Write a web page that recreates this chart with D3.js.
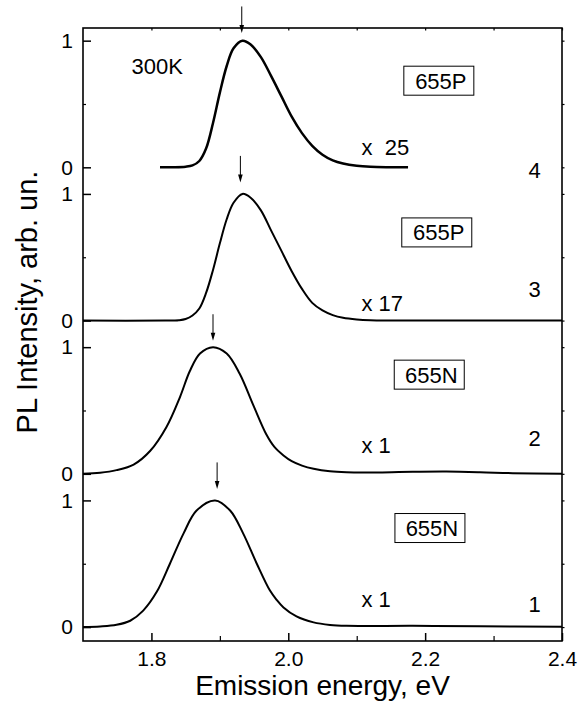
<!DOCTYPE html>
<html>
<head>
<meta charset="utf-8">
<script src="https://cdn.jsdelivr.net/npm/d3@7"></script>
<style>
  body { margin: 0; background: #fff; }
  svg { display: block; }
  text { font-family: "Liberation Sans", Arial, sans-serif; fill: #000; }
</style>
</head>
<body>
<div id="chart"></div>
<script>
// Spectra, top panel first (curve 4) down to curve 1
const curveIds = ["4", "3", "2", "1"];
const samples = ["655P", "655P", "655N", "655N"];
const factors = ["x\u00a0\u00a025", "x 17", "x 1", "x 1"];
const peakEnergy = [1.932, 1.930, 1.890, 1.896];

const energy4 = [1.8125, 1.83, 1.85, 1.86, 1.87, 1.88, 1.89, 1.90, 1.91, 1.92, 1.933, 1.945, 1.96, 1.975, 1.99, 2.005, 2.02, 2.035, 2.05, 2.065, 2.08, 2.10, 2.12, 2.15, 2.175];
const intensity4 = [0, 0.001, 0.005, 0.015, 0.05, 0.15, 0.35, 0.59, 0.80, 0.94, 1.0, 0.97, 0.87, 0.72, 0.56, 0.40, 0.27, 0.17, 0.10, 0.055, 0.03, 0.012, 0.004, 0.001, 0];

const energy3 = [1.7, 1.82, 1.84, 1.85, 1.86, 1.87, 1.88, 1.89, 1.90, 1.91, 1.92, 1.933, 1.945, 1.96, 1.975, 1.99, 2.005, 2.02, 2.035, 2.05, 2.065, 2.08, 2.10, 2.12, 2.15, 2.4];
const intensity3 = [0, 0, 0.003, 0.012, 0.04, 0.095, 0.22, 0.40, 0.61, 0.80, 0.93, 1.0, 0.97, 0.87, 0.71, 0.55, 0.39, 0.25, 0.14, 0.08, 0.043, 0.022, 0.009, 0.003, 0.001, 0];

const energy2 = [1.7, 1.725, 1.749, 1.774, 1.798, 1.822, 1.842, 1.856, 1.871, 1.890, 1.910, 1.929, 1.949, 1.968, 1.98, 1.993, 2.005, 2.02, 2.037, 2.061, 2.085, 2.110, 2.182, 2.231, 2.280, 2.328, 2.4];
const intensity2 = [0, 0.008, 0.029, 0.073, 0.18, 0.37, 0.61, 0.81, 0.95, 1.0, 0.95, 0.79, 0.54, 0.31, 0.21, 0.145, 0.10, 0.065, 0.04, 0.02, 0.012, 0.01, 0.016, 0.018, 0.013, 0.005, 0];

const energy1 = [1.7, 1.725, 1.749, 1.769, 1.788, 1.808, 1.827, 1.847, 1.866, 1.893, 1.915, 1.934, 1.954, 1.973, 1.983, 1.993, 2.012, 2.037, 2.061, 2.085, 2.182, 2.280, 2.4];
const intensity1 = [0, 0.005, 0.018, 0.05, 0.13, 0.28, 0.50, 0.74, 0.92, 1.0, 0.92, 0.74, 0.50, 0.29, 0.215, 0.155, 0.084, 0.037, 0.017, 0.01, 0.01, 0.007, 0.002];

const energies = [energy4, energy3, energy2, energy1];
const intensities = [intensity4, intensity3, intensity2, intensity1];

const xTicks = [1.8, 2.0, 2.2, 2.4];
const xMinorTicks = [1.9, 2.1, 2.3];
const yTicks = [0, 1];

// annotation placement per panel (in data units)
const notes = [
  { box: [2.22, 0.684], factor: [2.107, 0.097], id: [2.36, -0.087], arrow: [1.06, 1.27], width: 2.5 },
  { box: [2.217, 0.696], factor: [2.107, 0.078], id: [2.36, 0.184], arrow: [1.09, 1.30], width: 2 },
  { box: [2.206, 0.783], factor: [2.107, 0.167], id: [2.36, 0.22], arrow: [1.05, 1.26], width: 2 },
  { box: [2.207, 0.782], factor: [2.107, 0.161], id: [2.36, 0.12], arrow: [1.09, 1.30], width: 2 },
];

const W = 585, H = 709;
const margin = { top: 28, right: 23, bottom: 68, left: 83 };
const panelH = (H - margin.top - margin.bottom) / 4;

const svg = d3.select("#chart").append("svg").attr("width", W).attr("height", H);

const x = d3.scaleLinear().domain([1.7, 2.4]).range([margin.left, W - margin.right]);

const noDomain = (g) => g.select(".domain").remove();

curveIds.forEach((id, i) => {
  const top = margin.top + i * panelH;
  const y = d3.scaleLinear().domain([-0.11, 1.1]).range([top + panelH, top]);
  const note = notes[i];
  const g = svg.append("g");

  // left ticks (inward) with labels
  g.append("g")
    .attr("transform", `translate(${margin.left},0)`)
    .call(d3.axisLeft(y).tickValues(yTicks).tickSize(-8).tickPadding(10).tickFormat(d3.format("d")))
    .call(noDomain)
    .call((a) => a.selectAll("line").attr("stroke", "#000").attr("stroke-width", 1.5))
    .call((a) => a.selectAll("text").style("font-size", "21px").style("font-family", "'Liberation Sans', Arial, sans-serif"));

  g.append("g")
    .attr("transform", `translate(${margin.left},0)`)
    .call(d3.axisLeft(y).tickValues([0.5]).tickSize(-3).tickFormat(""))
    .call(noDomain)
    .call((a) => a.selectAll("line").attr("stroke", "#000").attr("stroke-width", 1.2));

  // right ticks (small, outward)
  g.append("g")
    .attr("transform", `translate(${W - margin.right},0)`)
    .call(d3.axisRight(y).tickValues([0, 0.5, 1]).tickSize(2.5).tickFormat(""))
    .call(noDomain)
    .call((a) => a.selectAll("line").attr("stroke", "#000").attr("stroke-width", 1.2));

  // spectrum
  const pts = energies[i].map((e, k) => [e, intensities[i][k]]);
  g.append("path")
    .datum(pts)
    .attr("fill", "none")
    .attr("stroke", "#000")
    .attr("stroke-width", note.width)
    .attr("d", d3.line().x((d) => x(d[0])).y((d) => y(d[1])).curve(d3.curveCatmullRom.alpha(0.5)));

  // peak arrow
  const ax = x(peakEnergy[i]);
  const tipY = y(note.arrow[0]);
  g.append("line")
    .attr("x1", ax).attr("x2", ax)
    .attr("y1", y(note.arrow[1])).attr("y2", tipY - 6)
    .attr("stroke", "#000").attr("stroke-width", 1);
  g.append("path")
    .attr("d", `M${ax - 2.3},${tipY - 8}L${ax + 2.3},${tipY - 8}L${ax},${tipY}Z`)
    .attr("fill", "#000");

  // sample box
  const bx = x(note.box[0]);
  const by = y(note.box[1]);
  g.append("rect")
    .attr("x", bx - 35).attr("y", by - 14.5)
    .attr("width", 70).attr("height", 29)
    .attr("fill", "none").attr("stroke", "#000").attr("stroke-width", 1);
  g.append("text")
    .attr("x", bx + 2).attr("y", by + 8)
    .attr("text-anchor", "middle")
    .style("font-size", "22px")
    .text(samples[i]);

  // multiplication factor
  g.append("text")
    .attr("x", x(note.factor[0])).attr("y", y(note.factor[1]))
    .style("font-size", "22px")
    .text(factors[i]);

  // curve number
  g.append("text")
    .attr("x", x(note.id[0])).attr("y", y(note.id[1]))
    .attr("text-anchor", "middle")
    .style("font-size", "22px")
    .text(id);

  if (i === 0) {
    g.append("text")
      .attr("x", x(1.771)).attr("y", y(0.737))
      .style("font-size", "22px")
      .text("300K");
  }
});

// frame
svg.append("rect")
  .attr("x", margin.left).attr("y", margin.top)
  .attr("width", W - margin.left - margin.right)
  .attr("height", H - margin.top - margin.bottom)
  .attr("fill", "none").attr("stroke", "#000").attr("stroke-width", 1.6);

// bottom axis
const bottomY = H - margin.bottom;
svg.append("g")
  .attr("transform", `translate(0,${bottomY})`)
  .call(d3.axisBottom(x).tickValues(xTicks).tickSize(-8).tickPadding(10).tickFormat(d3.format(".1f")))
  .call(noDomain)
  .call((a) => a.selectAll("line").attr("stroke", "#000").attr("stroke-width", 1.5))
  .call((a) => a.selectAll("text").style("font-size", "21px").style("font-family", "'Liberation Sans', Arial, sans-serif"));

svg.append("g")
  .attr("transform", `translate(0,${bottomY})`)
  .call(d3.axisBottom(x).tickValues(xMinorTicks).tickSize(-5).tickFormat(""))
  .call(noDomain)
  .call((a) => a.selectAll("line").attr("stroke", "#000").attr("stroke-width", 1.2));

// top axis small ticks
svg.append("g")
  .attr("transform", `translate(0,${margin.top})`)
  .call(d3.axisTop(x).tickValues(xTicks.concat(xMinorTicks)).tickSize(-2.5).tickFormat(""))
  .call(noDomain)
  .call((a) => a.selectAll("line").attr("stroke", "#000").attr("stroke-width", 1.2));

// axis titles
svg.append("text")
  .attr("x", (margin.left + W - margin.right) / 2)
  .attr("y", 695)
  .attr("text-anchor", "middle")
  .style("font-size", "28px")
  .text("Emission energy, eV");

svg.append("text")
  .attr("transform", "translate(37,302) rotate(-90)")
  .attr("text-anchor", "middle")
  .style("font-size", "29px")
  .text("PL Intensity, arb. un.");
</script>
</body>
</html>
